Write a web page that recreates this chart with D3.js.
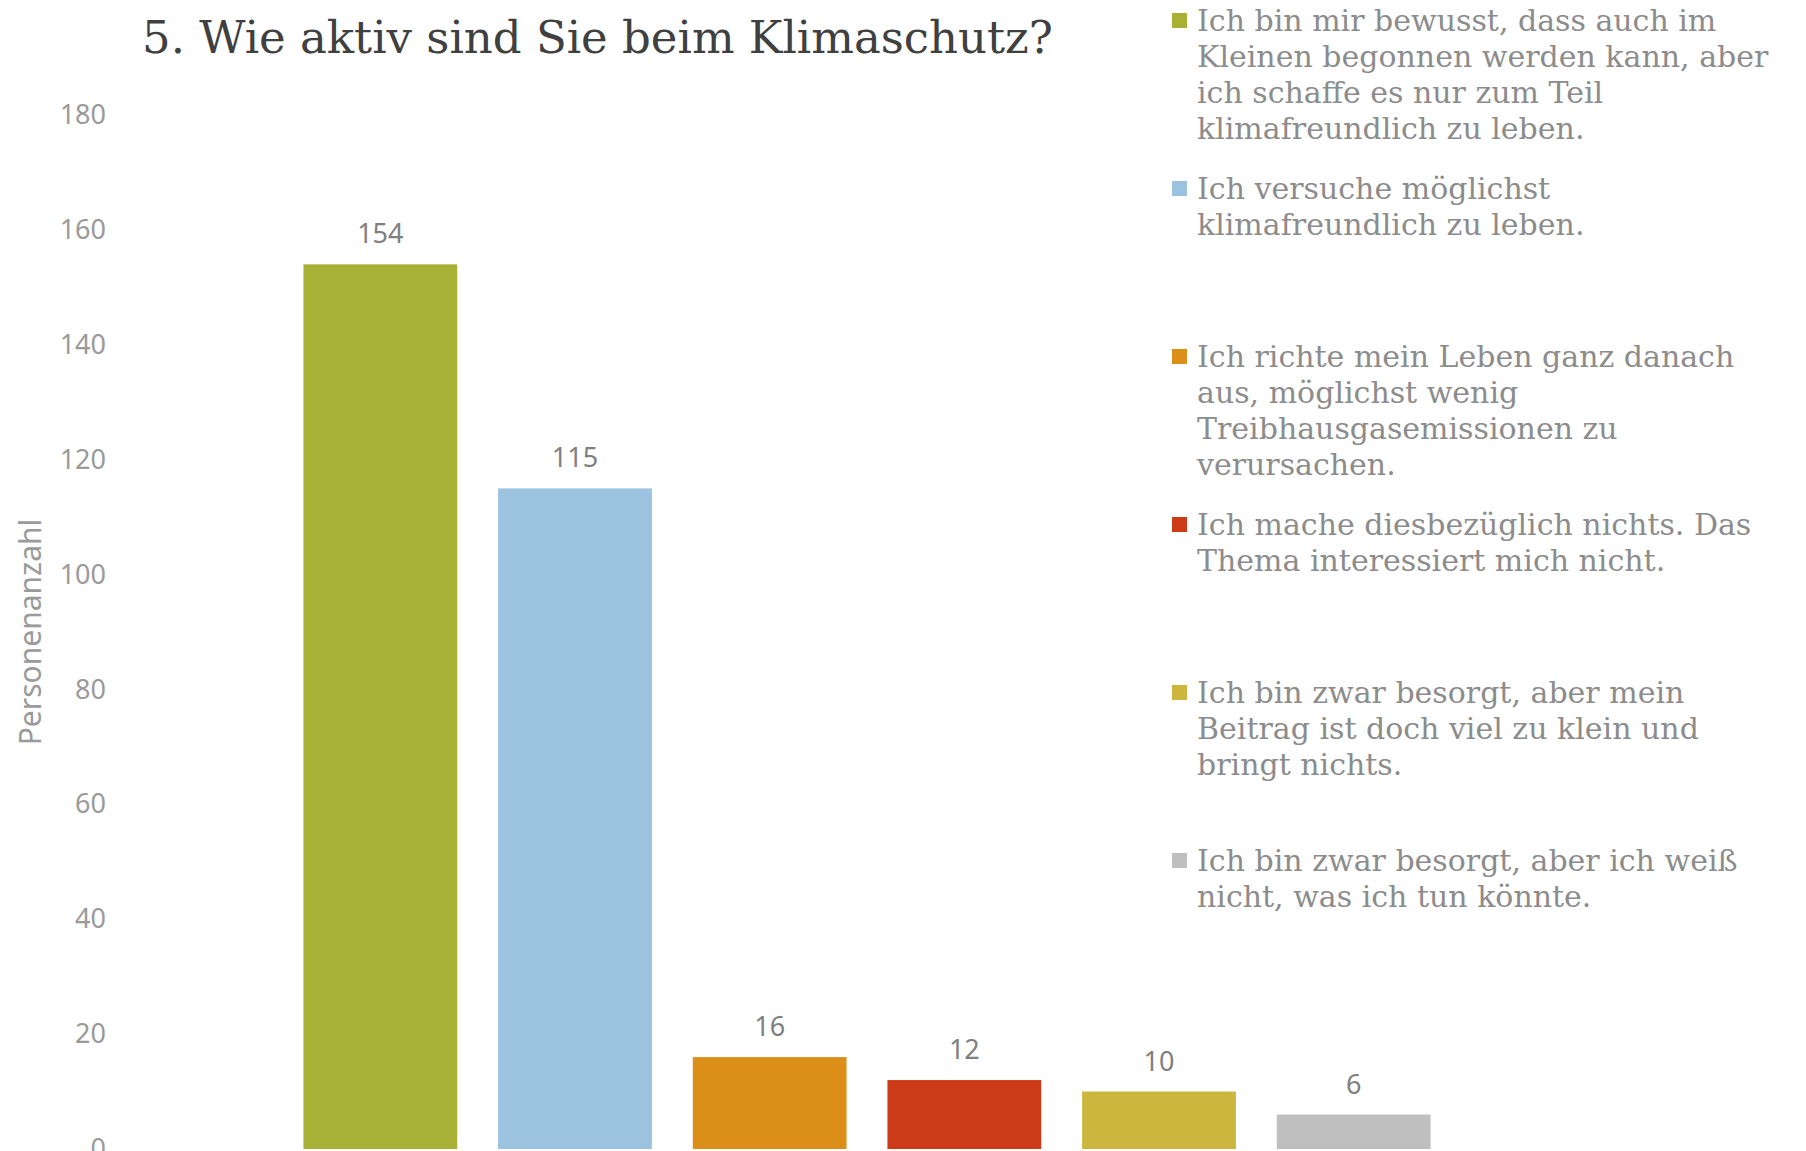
<html lang="de">
<head>
  <meta http-equiv="Content-Type" content="text/html; charset=utf-8" />
  <script src="https://d3js.org/d3.v7.min.js"></script>
  <style>
    body { margin: 0; background: #fff; }
  </style>
</head>
<body>
  <div id="chart"></div>
  <script>
    'use strict';

    // data
    const categories = [
      "Ich bin mir bewusst, dass auch im\nKleinen begonnen werden kann, aber\nich schaffe es nur zum Teil\nklimafreundlich zu leben.",
      "Ich versuche möglichst\nklimafreundlich zu leben.",
      "Ich richte mein Leben ganz danach\naus, möglichst wenig\nTreibhausgasemissionen zu\nverursachen.",
      "Ich mache diesbezüglich nichts. Das\nThema interessiert mich nicht.",
      "Ich bin zwar besorgt, aber mein\nBeitrag ist doch viel zu klein und\nbringt nichts.",
      "Ich bin zwar besorgt, aber ich weiß\nnicht, was ich tun könnte."
    ];
    const values = [154, 115, 16, 12, 10, 6];
    const colors = ["#A8B035", "#9BC2DF", "#DB8E18", "#CC3A18", "#CDB63E", "#BFBFBF"];
    const yTicks = [0, 20, 40, 60, 80, 100, 120, 140, 160, 180];

    const title = "5. Wie aktiv sind Sie beim Klimaschutz?";
    const yTitle = "Personenanzahl";

    const width = 1806;
    const height = 1151;
    const serif = "'DejaVu Serif', serif";
    const sans = "'Noto Sans', 'Open Sans', sans-serif";

    const svg = d3.select("#chart")
      .append("svg")
      .attr("width", width)
      .attr("height", height);

    const x = d3.scaleBand()
      .domain(d3.range(categories.length))
      .range([283, 1451])
      .paddingInner(0.21)
      .paddingOuter(0.105);

    const y = d3.scaleLinear()
      .domain([0, 180])
      .range([1149, 115]);

    // y axis, no line, only labels
    const yAxis = svg.append("g")
      .attr("transform", "translate(106,0)")
      .call(d3.axisLeft(y).tickValues(yTicks).tickSize(0).tickPadding(0));
    yAxis.select(".domain").remove();
    yAxis.selectAll("text")
      .style("font-family", sans)
      .style("font-size", "27px")
      .attr("fill", "#9a9a9a");

    svg.append("text")
      .attr("transform", "translate(41, 632) rotate(-90)")
      .attr("text-anchor", "middle")
      .style("font-family", sans)
      .style("font-size", "30px")
      .attr("fill", "#9a9a9a")
      .text(yTitle);

    // bars
    svg.selectAll("rect.bar")
      .data(values)
      .join("rect")
      .attr("class", "bar")
      .attr("x", (d, i) => x(i))
      .attr("y", d => y(d))
      .attr("width", x.bandwidth())
      .attr("height", d => y(0) - y(d))
      .attr("fill", (d, i) => colors[i]);

    svg.selectAll("text.val")
      .data(values)
      .join("text")
      .attr("class", "val")
      .attr("x", (d, i) => x(i) + x.bandwidth() / 2)
      .attr("y", d => y(d) - 21)
      .attr("text-anchor", "middle")
      .style("font-family", sans)
      .style("font-size", "27px")
      .attr("fill", "#808080")
      .text(d => d);

    // title
    svg.append("text")
      .attr("x", 142)
      .attr("y", 53)
      .style("font-family", serif)
      .style("font-size", "45px")
      .attr("fill", "#404040")
      .text(title);

    // legend
    const slot = 168;
    const lineH = 36;
    const legend = svg.selectAll("g.legend")
      .data(categories)
      .join("g")
      .attr("class", "legend")
      .attr("transform", (d, i) => `translate(1172, ${31 + i * slot})`);

    legend.append("rect")
      .attr("x", 0)
      .attr("y", -18)
      .attr("width", 15)
      .attr("height", 15)
      .attr("fill", (d, i) => colors[i]);

    legend.each(function (d) {
      const t = d3.select(this).append("text")
        .attr("x", 25)
        .attr("y", 0)
        .style("font-family", serif)
        .style("font-size", "30px")
        .attr("fill", "#8c8c8c");
      d.split("\n").forEach((line, k) => {
        t.append("tspan")
          .attr("x", 25)
          .attr("dy", k === 0 ? 0 : lineH)
          .text(line);
      });
    });
  </script>
</body>
</html>
